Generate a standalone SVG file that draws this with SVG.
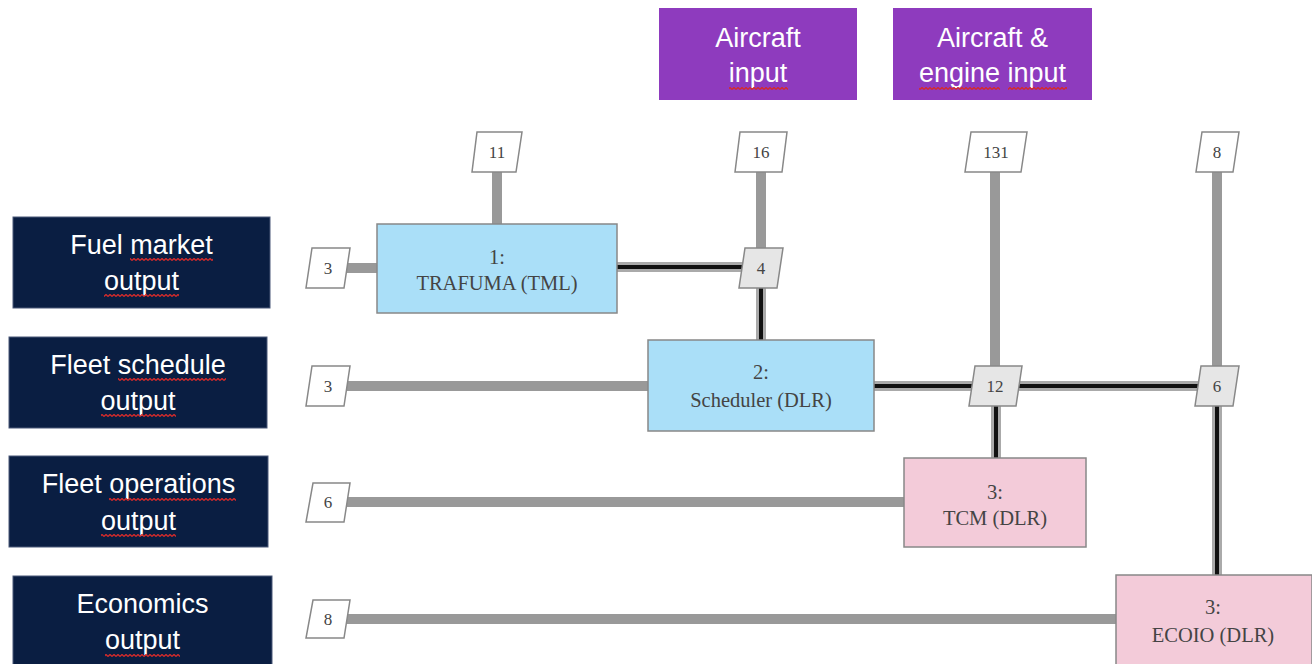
<svg xmlns="http://www.w3.org/2000/svg" width="1312" height="664" viewBox="0 0 1312 664">
<style>
.bg{fill:#ffffff}
.navy{fill:#0a1e42;stroke:#4a5878;stroke-width:1}
.purple{fill:#8e3bbe}
.lbl{font-family:"Liberation Sans",Arial,sans-serif;font-size:27px;fill:#ffffff;text-anchor:middle}
.blue{fill:#aadff8;stroke:#888;stroke-width:1.5}
.pink{fill:#f3cbd9;stroke:#888;stroke-width:1.5}
.comp{font-family:"Liberation Serif","Times New Roman",serif;font-size:20.5px;fill:#444;text-anchor:middle}
.pw{fill:#ffffff;stroke:#888;stroke-width:1.5}
.pg{fill:#e6e6e6;stroke:#888;stroke-width:1.5}
.num{font-family:"Liberation Serif","Times New Roman",serif;font-size:17px;fill:#444;text-anchor:middle}
.io{stroke:#999;stroke-width:10;fill:none}
.halo{stroke:#aaa;stroke-width:10;fill:none}
.core{stroke:#111;stroke-width:4;fill:none}
.sq{fill:url(#squig)}
</style>
<defs>
<pattern id="squig" patternUnits="userSpaceOnUse" x="0" y="0" width="4" height="3">
<path d="M0 2.5 L2 0.5 L4 2.5" stroke="#d42a2a" stroke-width="1.3" fill="none"/>
</pattern>
</defs>
<rect class="bg" x="0" y="0" width="1312" height="664"/>

<g id="connectors">
<line class="io" x1="497" y1="172" x2="497" y2="224"/>
<line class="io" x1="761" y1="172" x2="761" y2="248"/>
<line class="io" x1="995" y1="172" x2="995" y2="366"/>
<line class="io" x1="1217" y1="172" x2="1217" y2="366"/>
<line class="io" x1="344" y1="268" x2="377" y2="268"/>
<line class="io" x1="346" y1="386" x2="648" y2="386"/>
<line class="io" x1="346" y1="502" x2="904" y2="502"/>
<line class="io" x1="346" y1="619" x2="1116" y2="619"/>
<g>
<line class="halo" x1="617" y1="267" x2="743" y2="267"/>
<line class="core" x1="617" y1="267" x2="743" y2="267"/>
<line class="halo" x1="761" y1="288" x2="761" y2="340"/>
<line class="core" x1="761" y1="288" x2="761" y2="340"/>
<line class="halo" x1="874" y1="386" x2="973" y2="386"/>
<line class="core" x1="874" y1="386" x2="973" y2="386"/>
<line class="halo" x1="1019" y1="386" x2="1199" y2="386"/>
<line class="core" x1="1019" y1="386" x2="1199" y2="386"/>
<line class="halo" x1="996" y1="405" x2="996" y2="458"/>
<line class="core" x1="996" y1="405" x2="996" y2="458"/>
<line class="halo" x1="1217" y1="405" x2="1217" y2="575"/>
<line class="core" x1="1217" y1="405" x2="1217" y2="575"/>
</g>
</g>

<g id="fuel-market-output">
<rect class="navy" x="13" y="217" width="257" height="91"/>
<text class="lbl" x="141.5" y="254">Fuel market</text>
<text class="lbl" x="141.5" y="290">output</text>
<rect class="sq" x="130" y="258" width="83" height="3"/>
<rect class="sq" x="104" y="294" width="75" height="3"/>
</g>
<g id="fleet-schedule-output">
<rect class="navy" x="9" y="337" width="258" height="91"/>
<text class="lbl" x="138" y="374">Fleet schedule</text>
<text class="lbl" x="138" y="410">output</text>
<rect class="sq" x="118" y="378" width="108" height="3"/>
<rect class="sq" x="101" y="414" width="75" height="3"/>
</g>
<g id="fleet-operations-output">
<rect class="navy" x="9" y="456" width="259" height="91"/>
<text class="lbl" x="138.5" y="493">Fleet operations</text>
<text class="lbl" x="138.5" y="530">output</text>
<rect class="sq" x="109" y="498" width="127" height="3"/>
<rect class="sq" x="101" y="534" width="75" height="3"/>
</g>
<g id="economics-output">
<rect class="navy" x="13" y="576" width="259" height="92"/>
<text class="lbl" x="142.5" y="613">Economics</text>
<text class="lbl" x="142.5" y="649">output</text>
<rect class="sq" x="105" y="654" width="75" height="3"/>
</g>

<g id="aircraft-input">
<rect class="purple" x="659" y="8" width="198" height="92"/>
<text class="lbl" x="758" y="47">Aircraft</text>
<text class="lbl" x="758" y="82">input</text>
<rect class="sq" x="729" y="87" width="59" height="3"/>
</g>
<g id="aircraft-engine-input">
<rect class="purple" x="893" y="8" width="199" height="92"/>
<text class="lbl" x="992.5" y="47">Aircraft &amp;</text>
<text class="lbl" x="992.5" y="82">engine input</text>
<rect class="sq" x="919" y="87" width="81" height="3"/>
<rect class="sq" x="1008" y="87" width="59" height="3"/>
</g>

<g id="trafuma">
<rect class="blue" x="377" y="224" width="240" height="89"/>
<text class="comp" x="497" y="264">1:</text>
<text class="comp" x="497" y="290">TRAFUMA (TML)</text>
</g>
<g id="scheduler">
<rect class="blue" x="648" y="340" width="226" height="91"/>
<text class="comp" x="761" y="379">2:</text>
<text class="comp" x="761" y="407">Scheduler (DLR)</text>
</g>
<g id="tcm">
<rect class="pink" x="904" y="458" width="182" height="89"/>
<text class="comp" x="995" y="499">3:</text>
<text class="comp" x="995" y="525">TCM (DLR)</text>
</g>
<g id="ecoio">
<rect class="pink" x="1116" y="575" width="196" height="92"/>
<text class="comp" x="1213" y="614">3:</text>
<text class="comp" x="1213" y="642">ECOIO (DLR)</text>
</g>

<g id="in-11">
<polygon class="pw" points="477,132 522,132 516,172 472,172"/>
<text class="num" x="497" y="158">11</text>
</g>
<g id="in-16">
<polygon class="pw" points="740,132 787,132 782,172 735,172"/>
<text class="num" x="761" y="158">16</text>
</g>
<g id="in-131">
<polygon class="pw" points="971,132 1027,132 1021,172 965,172"/>
<text class="num" x="996" y="158">131</text>
</g>
<g id="in-8">
<polygon class="pw" points="1202,132 1239,132 1233,172 1196,172"/>
<text class="num" x="1217" y="158">8</text>
</g>
<g id="cp-4">
<polygon class="pg" points="745,248 783,248 777,288 739,288"/>
<text class="num" x="761" y="274">4</text>
</g>
<g id="cp-12">
<polygon class="pg" points="975,366 1022,366 1016,406 969,406"/>
<text class="num" x="995" y="392">12</text>
</g>
<g id="cp-6">
<polygon class="pg" points="1201,366 1239,366 1233,406 1195,406"/>
<text class="num" x="1217" y="392">6</text>
</g>
<g id="out-3a">
<polygon class="pw" points="312,248 350,248 344,288 306,288"/>
<text class="num" x="328" y="274">3</text>
</g>
<g id="out-3b">
<polygon class="pw" points="312,366 350,366 344,406 306,406"/>
<text class="num" x="328" y="392">3</text>
</g>
<g id="out-6">
<polygon class="pw" points="313,483 350,483 344,522 306,522"/>
<text class="num" x="328" y="508">6</text>
</g>
<g id="out-8">
<polygon class="pw" points="313,600 350,600 344,638 306,638"/>
<text class="num" x="328" y="625">8</text>
</g>
</svg>
